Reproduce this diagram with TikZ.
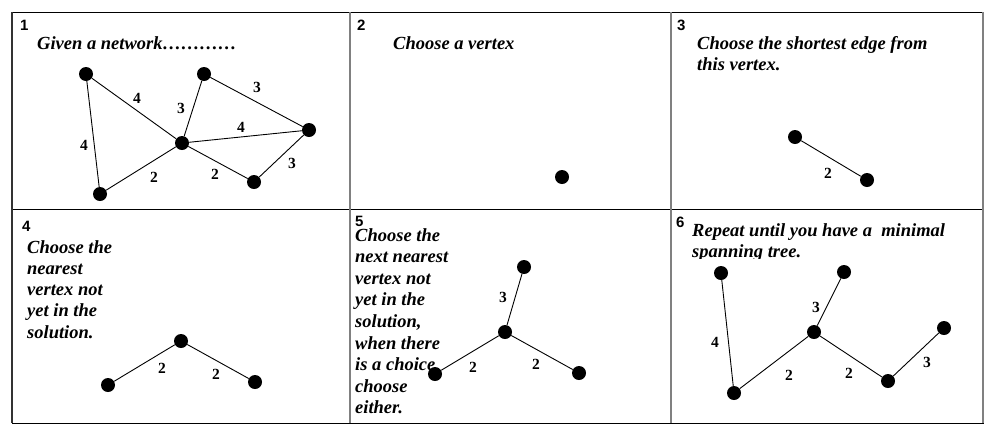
\documentclass[tikz,border=0pt]{standalone}
\usepackage{fontspec}
\setmainfont{Liberation Serif}
\newfontfamily\numfont{Liberation Sans}
\begin{document}
\begin{tikzpicture}[x=1pt,y=-1pt,
  vtx/.style={circle,fill=black,inner sep=0pt,minimum size=14pt},
  edge/.style={draw=black,line width=0.9pt},
  wlab/.style={font=\fontsize{15.5}{15.5}\selectfont\bfseries,inner sep=0pt},
  pnum/.style={font=\fontsize{15}{15}\numfont\bfseries,anchor=base west,inner sep=0pt},
  ptext/.style={font=\fontsize{18.5}{21.4}\selectfont\bfseries\itshape,anchor=base west,inner sep=0pt},
  hline/.style={draw=black,line width=1pt},
  vline/.style={draw=gray,line width=1.6pt}]
\useasboundingbox (0,0) rectangle (1000,437);
% grid
\draw[hline] (12,12) -- (984,12);
\draw[hline] (12,209) -- (984,209);
\draw[hline] (12,423) -- (984,423);
\draw[draw=black!80,line width=1.2pt] (12,12) -- (12,423);
\draw[vline] (350,12) -- (350,423);
\draw[vline] (671,12) -- (671,423);
\draw[vline] (983,12) -- (983,423);
% panel 1
\node[pnum] (n1) at (20,30) {1};
\node[ptext] (t1) at (37,49) {Given a network…………};
\node[vtx] (a1) at (86,74) {};
\node[vtx] (b1) at (204,74) {};
\node[vtx] (c1) at (182,143) {};
\node[vtx] (d1) at (309,130) {};
\node[vtx] (e1) at (100,194) {};
\node[vtx] (f1) at (254,182) {};
\draw[edge] (a1) -- (c1);
\draw[edge] (a1) -- (e1);
\draw[edge] (b1) -- (c1);
\draw[edge] (b1) -- (d1);
\draw[edge] (c1) -- (d1);
\draw[edge] (c1) -- (e1);
\draw[edge] (c1) -- (f1);
\draw[edge] (f1) -- (d1);
\node[wlab] (l1a) at (137,98) {4};
\node[wlab] (l1b) at (84,145) {4};
\node[wlab] (l1c) at (181,108) {3};
\node[wlab] (l1d) at (257,87) {3};
\node[wlab] (l1e) at (241,127) {4};
\node[wlab] (l1f) at (154,177) {2};
\node[wlab] (l1g) at (215,174) {2};
\node[wlab] (l1h) at (292,163) {3};
% panel 2
\node[pnum] (n2) at (357,30) {2};
\node[ptext] (t2) at (393,49) {Choose a vertex};
\node[vtx] (a2) at (562,177) {};
% panel 3
\node[pnum] (n3) at (677,30) {3};
\node[ptext] (t3a) at (697,49) {Choose the shortest edge from};
\node[ptext] (t3b) at (697,70) {this vertex.};
\node[vtx] (a3) at (795,137) {};
\node[vtx] (b3) at (867,180) {};
\draw[edge] (a3) -- (b3);
\node[wlab] (l3a) at (828,173) {2};
% panel 4
\node[pnum] (n4) at (22,231) {4};
\foreach \s [count=\i] in {Choose the,nearest,vertex not,yet in the,solution.}
  \node[ptext] (t4-\i) at (27,{253+21.3*(\i-1)}) {\s};
\node[vtx] (c4) at (181,341) {};
\node[vtx] (a4) at (108,385) {};
\node[vtx] (b4) at (255,382) {};
\draw[edge] (c4) -- (a4);
\draw[edge] (c4) -- (b4);
\node[wlab] (l4a) at (162,368) {2};
\node[wlab] (l4b) at (216,374) {2};
% panel 5
\node[pnum] (n5) at (355,226) {5};
\node[vtx] (t5v) at (524,267) {};
\node[vtx] (c5) at (505,332) {};
\node[vtx] (a5) at (435,374) {};
\node[vtx] (b5) at (579,373) {};
\draw[edge] (c5) -- (t5v);
\draw[edge] (c5) -- (a5);
\draw[edge] (c5) -- (b5);
\node[wlab] (l5a) at (503,297) {3};
\node[wlab] (l5b) at (473,367) {2};
\node[wlab] (l5c) at (536,364) {2};
\foreach \s [count=\i] in {Choose the,next nearest,vertex not,yet in the,{solution,},when there,is a choice,choose,either.}
  \node[ptext] (t5-\i) at (355,{241+21.6*(\i-1)}) {\s};
% panel 6
\node[pnum] (n6) at (676,227) {6};
\begin{scope}
\clip (672,210) rectangle (982,258);
\node[ptext] (t6a) at (692,236) {Repeat until you have a\ \ minimal};
\node[ptext] (t6b) at (692,257) {spanning tree.};
\end{scope}
\node[vtx] (a6) at (721,273) {};
\node[vtx] (b6) at (844,272) {};
\node[vtx] (c6) at (814,332) {};
\node[vtx] (d6) at (944,328) {};
\node[vtx] (e6) at (734,393) {};
\node[vtx] (f6) at (888,381) {};
\draw[edge] (a6) -- (e6);
\draw[edge] (e6) -- (c6);
\draw[edge] (c6) -- (b6);
\draw[edge] (c6) -- (f6);
\draw[edge] (f6) -- (d6);
\node[wlab] (l6a) at (715,342) {4};
\node[wlab] (l6b) at (816,307) {3};
\node[wlab] (l6c) at (789,375) {2};
\node[wlab] (l6d) at (849,373) {2};
\node[wlab] (l6e) at (927,362) {3};
\end{tikzpicture}
\end{document}
